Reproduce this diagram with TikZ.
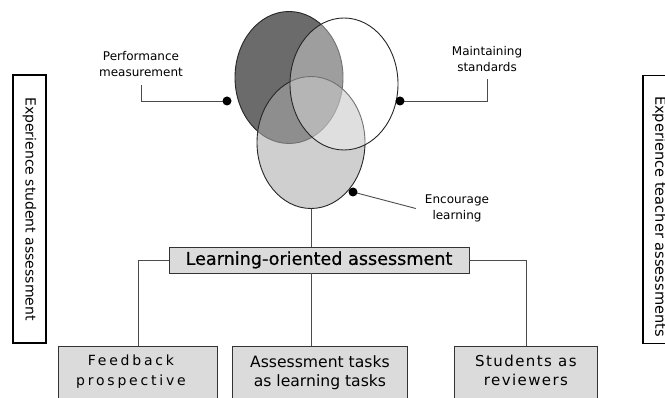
\documentclass[tikz,border=0pt]{standalone}
\usepackage{fontspec}
\setmainfont{DejaVu Sans}
\usetikzlibrary{shapes.geometric}

\definecolor{lobedark}{gray}{0.42}
\definecolor{lobemid}{gray}{0.67}
\definecolor{cardgray}{gray}{0.86}
\definecolor{wiregray}{gray}{0.3}

\tikzset{
  lobe/.style={ellipse, draw=black!85, line width=0.9pt, minimum width=108pt, minimum height=132pt, inner sep=0pt},
  pin/.style={circle, fill=black, inner sep=0pt, minimum size=9pt},
  wire/.style={draw=wiregray, line width=0.9pt},
  note/.style={align=center, font=\fontsize{12}{16}\selectfont, inner sep=0pt},
  card/.style={draw=black!80, fill=cardgray, line width=0.9pt, anchor=north west, minimum height=70pt, inner sep=0pt},
  cardtext/.style={anchor=north, align=center, yshift=-9pt, inner sep=0pt},
  sidebox/.style={draw=black, line width=1.8pt, fill=white, rotate=-90, minimum width=268pt, minimum height=33pt, inner sep=0pt, font=\fontsize{14}{16}\selectfont},
}

\begin{document}
\begin{tikzpicture}[x=1pt, y=-1pt]
  \clip (0,0) rectangle (665,398);
  \fill[white] (0,0) rectangle (665,398);

  % three overlapping lobes
  \node[lobe, fill=lobedark] (perfLobe) at (289,77.5) {};
  \node[lobe, fill=lobemid, fill opacity=0.56] (learnLobe) at (311,142.5) {};
  \node[lobe, fill=white, fill opacity=0.35] (stdLobe) at (344,84) {};

  % lobe captions
  \node[note] (perf) at (141,64) {Performance\\measurement};
  \node[note] (maint) at (487,59.5) {Maintaining\\standards};
  \node[note] (enc) at (457,208.5) {Encourage\\learning};

  \draw[wire] (227,101) -| ([yshift=-8pt]perf.south);
  \draw[wire] (400,101) -| ([yshift=-7pt]maint.south);
  \draw[wire] (353,192) -- ([xshift=-9pt]enc.west);
  \node[pin] (pinP) at (227,101) {};
  \node[pin] (pinM) at (400,101) {};
  \node[pin] (pinE) at (353,192) {};

  % central box and the three practices
  \node[draw=black!80, fill=cardgray, line width=0.9pt, minimum width=300pt, minimum height=26pt, inner sep=0pt,
        font=\fontsize{17.6}{20}\selectfont\addfontfeature{FakeBold=0.6}] (loa) at (319,260) {Learning-oriented assessment};

  \node[card, minimum width=159pt,
        label={[cardtext, xshift=-7pt, font=\fontsize{14}{20}\selectfont\addfontfeature{LetterSpace=20}]north:{Feedback\\prospective}}] (fb) at (58,346) {};
  \node[card, minimum width=175pt,
        label={[cardtext, font=\fontsize{15.6}{19}\selectfont]north:{Assessment tasks\\as learning tasks}}] (tasks) at (232,346) {};
  \node[card, minimum width=143pt,
        label={[cardtext, font=\fontsize{15}{19}\selectfont\addfontfeature{LetterSpace=9.5}]north:{Students as\\reviewers}}] (stu) at (454,346) {};

  \draw[wire] (learnLobe.south) -- (learnLobe.south |- loa.north);
  \draw[wire] (learnLobe.south |- loa.south) -- (learnLobe.south |- tasks.north);
  \draw[wire] (loa.west) -| (fb.north);
  \draw[wire] (loa.east) -| (stu.north);

  % side boxes
  \node[sidebox] (stuExp) at (29.5,209) {Experience student assessment};
  \node[sidebox, font=\fontsize{14.6}{16}\selectfont] (teachExp) at (659.5,209.5) {\hspace*{14pt}Experience teacher assessments};
\end{tikzpicture}
\end{document}
